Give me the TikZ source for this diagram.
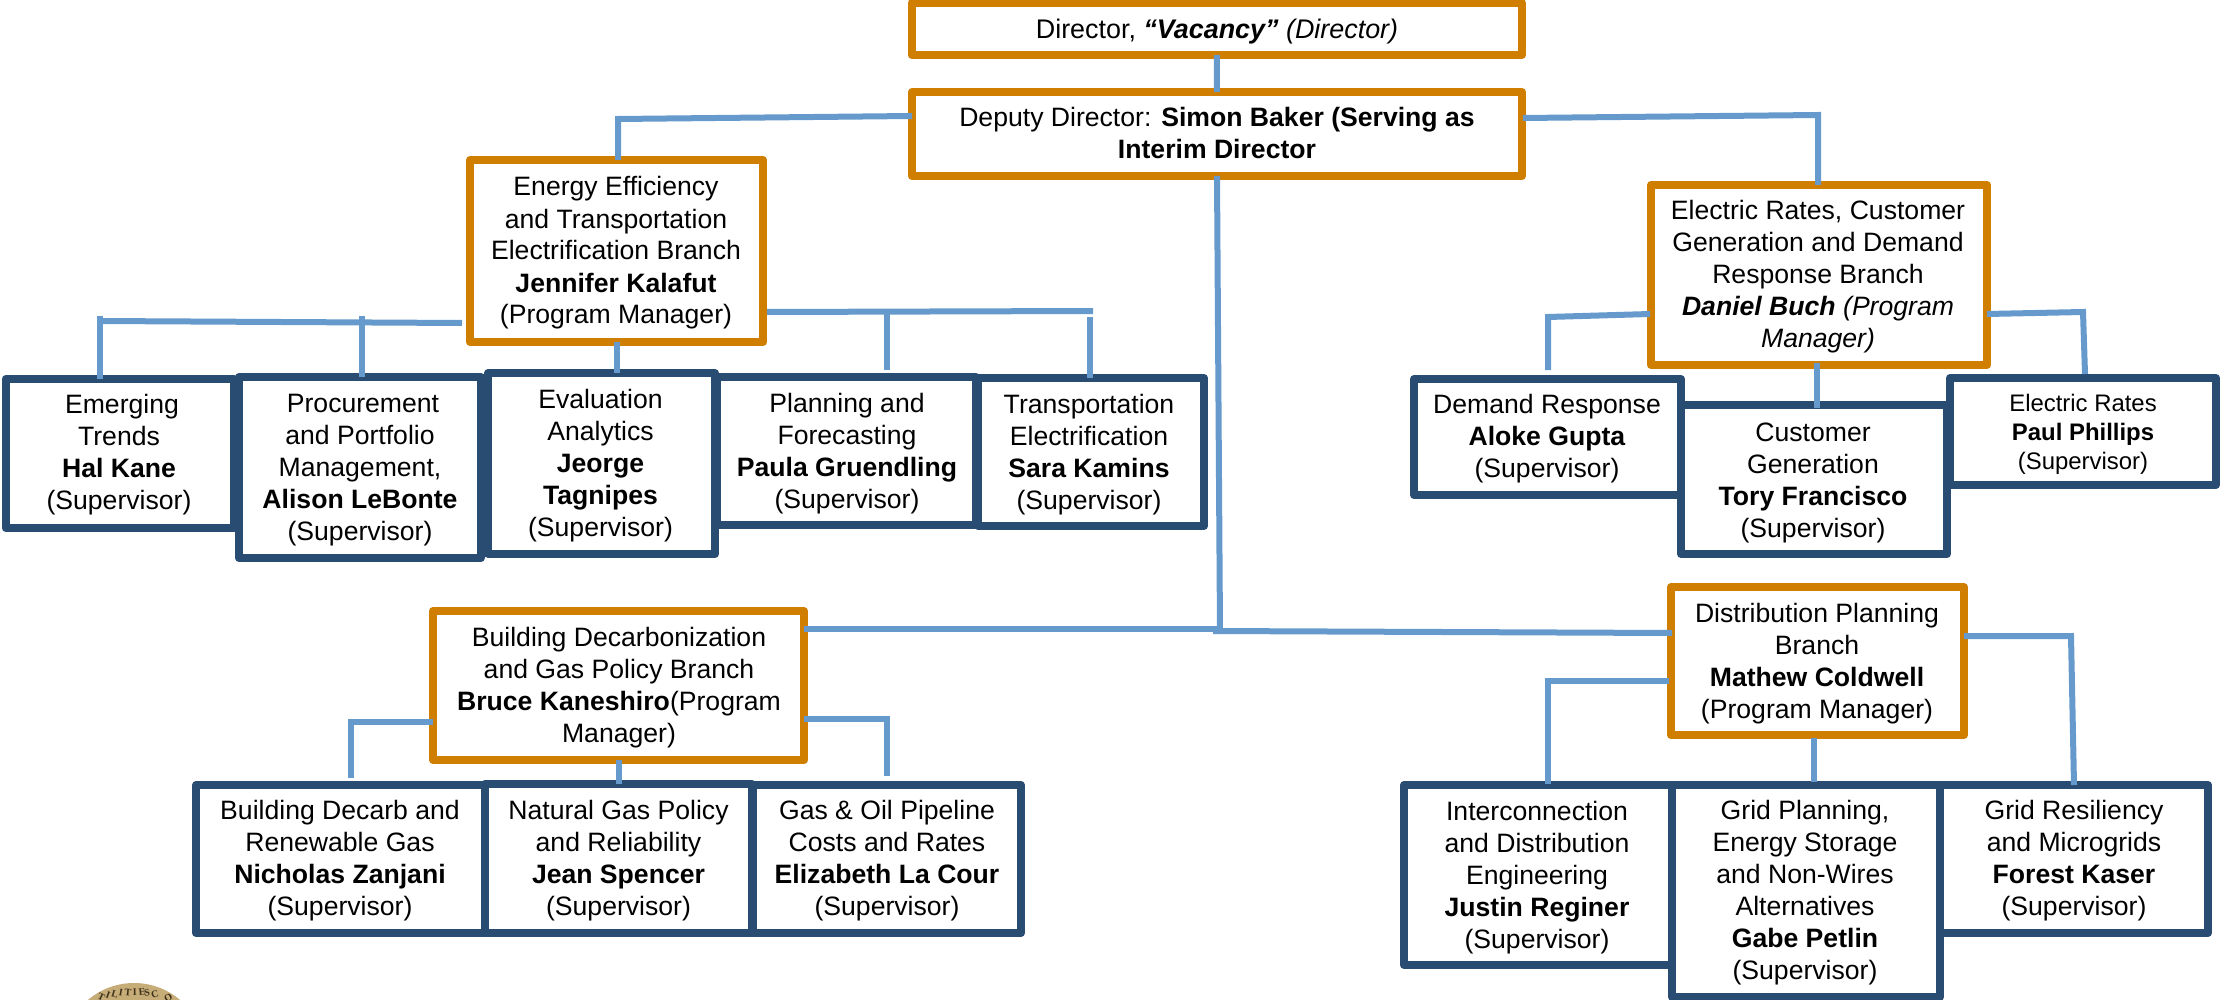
\documentclass[tikz,border=0pt]{standalone}
\usepackage{fontspec}
\setmainfont{Liberation Sans}
\newfontfamily\sealfont{Liberation Serif}
\usetikzlibrary{calc}
\definecolor{orgorange}{RGB}{208,126,0}
\definecolor{orgnavy}{RGB}{41,76,114}
\definecolor{orglink}{RGB}{102,153,204}
\definecolor{sealgold}{RGB}{198,172,118}
\definecolor{sealink}{RGB}{60,48,28}
\newcommand{\tstrut}{\vrule width 0pt height 20pt depth 6pt\relax}
\tikzset{
  boxbase/.style={rectangle,fill=white,inner sep=0pt,outer sep=0pt,line width=8pt,line join=round},
  branch/.style={boxbase,draw=orgorange},
  team/.style={boxbase,draw=orgnavy},
  lbl/.style={anchor=north,inner sep=0pt,outer sep=0pt,align=center,text=black,font=\fontsize{26.6}{32}\selectfont},
  lblwide/.style={lbl,font=\fontsize{26.9}{32}\selectfont},
  lblsmall/.style={lbl,font=\fontsize{23.9}{29}\selectfont},
  link/.style={draw=orglink,line width=6pt,line cap=butt,line join=miter},
}
\newcommand{\orgbox}[6]{%
  \node[#2,minimum width={(#5-#3)*1pt},minimum height={(#6-#4)*1pt}] (#1) at ({(#3+#5)/2},{(#4+#6)/2}) {};%
}
\newcommand{\orgtext}[5]{%
  \node[#2] (#1) at (#3,{#4-20}) {\tstrut #5};%
}
\begin{document}
\begin{tikzpicture}[x=1pt,y=-1pt]
\useasboundingbox (0,0) rectangle (2220,1000);
% seal
\begin{scope}
  \clip (0,0) rectangle (2220,1000);
  \fill[sealgold] (134,1054) circle (71);
  \foreach \ch/\ang in {T/-19,I/-15,L/-11,I/-7.5,T/-3.5,I/0.5,E/4.6,S/7.5,C/12,O/20}{
    \node[text=sealink,inner sep=0pt,font=\sealfont\bfseries\fontsize{10}{10}\selectfont,rotate=1.4*\ang] (seal\ch\ang) at ({134+100*sin(\ang)},{1092-100*cos(\ang)}) {\ch};
  }
\end{scope}
% boxes
\orgbox{dir}{branch}{911.5}{3}{1522}{55}
\orgbox{dep}{branch}{912}{92}{1522}{176}
\orgbox{en}{branch}{470}{160}{763}{342}
\orgbox{el}{branch}{1651}{185}{1987}{365}
\orgbox{bd}{branch}{433}{611}{804}{760}
\orgbox{di}{branch}{1671}{587}{1964}{735}
\orgbox{hal}{team}{5.5}{379}{234}{528}
\orgbox{pla}{team}{717}{377}{976}{525}
\orgbox{pro}{team}{239}{377}{481}{558}
\orgbox{eva}{team}{488}{373}{715}{554}
\orgbox{tra}{team}{978}{378}{1204}{526}
\orgbox{cus}{team}{1681}{405}{1947}{554}
\orgbox{dem}{team}{1414}{379}{1681}{495}
\orgbox{erp}{team}{1950}{378}{2216}{485}
\orgbox{bz}{team}{196}{785}{485}{933}
\orgbox{ng}{team}{485}{784}{752}{933}
\orgbox{gas}{team}{753}{785}{1021}{933}
\orgbox{ic}{team}{1404}{785}{1672}{965}
\orgbox{gr}{team}{1940}{785}{2208}{933}
\orgbox{gp}{team}{1672}{785}{1940}{997}
% bends and free ends
\coordinate (a1) at (618,119);
\coordinate (a2) at (1818,115);
\coordinate (a3) at (100,321);
\coordinate (a3t) at (100,316);
\coordinate (a4) at (362,316);
\coordinate (a5) at (1093,311);
\coordinate (a6) at (887,312);
\coordinate (a7) at (1090,317);
\coordinate (a8) at (1548,317);
\coordinate (a9) at (2083,312);
\coordinate (mj) at (1220,632);
\coordinate (mj2) at (1213,631);
\coordinate (mj3) at (1218,629);
\coordinate (a11) at (351,722);
\coordinate (a12) at (887,719);
\coordinate (a13) at (1548,681);
\coordinate (a14) at (2071,636);
% connectors
\draw[link] (dir.south) -- (dep.north);
\draw[link] (dep.south) -- (mj);
\draw[link] ($(dep.west)+(0,-18)$) -- (a1) -- (a1 |- en.north);
\draw[link] ($(dep.east)+(1,-16)$) -- (a2) -- (a2 |- el.north);
\draw[link] (en.south) -- (en.south |- eva.north);
\draw[link] ($(en.west)+(-8,72)$) -- (a3);
\draw[link] (a3t) -- (a3t |- hal.north);
\draw[link] (a4) -- (a4 |- pro.north);
\draw[link] ($(en.east)+(4,61)$) -- (a5);
\draw[link] (a6) -- ($(a6 |- pla.north)+(0,-7)$);
\draw[link] (a7) -- (a7 |- tra.north);
\draw[link] ($(el.west)+(-1,39)$) -- (a8) -- ($(a8 |- dem.north)+(0,-9)$);
\draw[link] ($(el.south)+(-2,-2)$) -- ($(el.south |- cus.north)+(-2,3)$);
\draw[link] ($(el.east)+(0,39)$) -- (a9) -- ($(erp.north)+(2,-4)$);
\draw[link] (mj2) -- ($(di.west)+(1,-28)$);
\draw[link] ($(bd.east)+(0,-56.5)$) -- (mj3);
\draw[link] ($(bd.west)+(0,36.5)$) -- (a11) -- ($(a11 |- bz.north)+(0,-7)$);
\draw[link] (bd.south) -- (bd.south |- ng.north);
\draw[link] ($(bd.east)+(0,33.5)$) -- (a12) -- ($(a12 |- gas.north)+(0,-9)$);
\draw[link] ($(di.west)+(-2,20)$) -- (a13) -- ($(a13 |- ic.north)+(0,-1)$);
\draw[link] ($(di.south)+(-3.5,3)$) -- ($(di.south |- gp.north)+(-3.5,-3)$);
\draw[link] ($(di.east)+(0,-25)$) -- (a14) -- (gr.north);
% labels
\orgtext{dirt}{lblwide}{1217}{38.5}{Director, \textbf{\textit{“Vacancy”}} \textit{(Director)}}
\orgtext{dept}{lbl}{1217}{126.5}{Deputy Director: \textbf{Simon Baker (Serving as}\\\textbf{Interim Director}}
\orgtext{ent}{lbl}{616}{196}{Energy Efficiency\\and Transportation\\Electrification Branch\\\textbf{Jennifer Kalafut}\\(Program Manager)}
\orgtext{elt}{lbl}{1818}{219.5}{Electric Rates, Customer\\Generation and Demand\\Response Branch\\\textbf{\textit{Daniel Buch}} \textit{(Program}\\\textit{Manager)}}
\orgtext{halt}{lbl}{119}{413}{\hspace*{6pt}Emerging\\Trends\\\textbf{Hal Kane}\\(Supervisor)}
\orgtext{prot}{lbl}{360}{412}{\hspace*{6pt}Procurement\\and Portfolio\\Management,\\\textbf{Alison LeBonte}\\(Supervisor)}
\orgtext{evat}{lbl}{600.5}{408.5}{Evaluation\\Analytics\\\textbf{Jeorge}\\\textbf{Tagnipes}\\(Supervisor)}
\orgtext{plat}{lbl}{847}{412}{Planning and\\Forecasting\\\textbf{Paula Gruendling}\\(Supervisor)}
\orgtext{trat}{lbl}{1089}{413}{Transportation\\Electrification\\\textbf{Sara Kamins}\\(Supervisor)}
\orgtext{demt}{lbl}{1547}{413.5}{Demand Response\\\textbf{Aloke Gupta}\\(Supervisor)}
\orgtext{cust}{lbl}{1813}{441}{Customer\\Generation\\\textbf{Tory Francisco}\\(Supervisor)}
\orgtext{erpt}{lblsmall}{2083}{411}{Electric Rates\\\textbf{Paul Phillips}\\(Supervisor)}
\orgtext{bdt}{lbl}{619}{646}{Building Decarbonization\\and Gas Policy Branch\\\textbf{Bruce Kaneshiro}(Program\\Manager)}
\orgtext{dit}{lbl}{1817}{622}{Distribution Planning\\Branch\\\textbf{Mathew Coldwell}\\(Program Manager)}
\orgtext{bzt}{lbl}{340}{819}{Building Decarb and\\Renewable Gas\\\textbf{Nicholas Zanjani}\\(Supervisor)}
\orgtext{ngt}{lbl}{618.5}{819}{Natural Gas Policy\\and Reliability\\\textbf{Jean Spencer}\\(Supervisor)}
\orgtext{gast}{lbl}{887}{819}{Gas \& Oil Pipeline\\Costs and Rates\\\textbf{Elizabeth La Cour}\\(Supervisor)}
\orgtext{ict}{lbl}{1537}{820}{Interconnection\\and Distribution\\Engineering\\\textbf{Justin Reginer}\\(Supervisor)}
\orgtext{gpt}{lbl}{1805}{819}{Grid Planning,\\Energy Storage\\and Non-Wires\\Alternatives\\\textbf{Gabe Petlin}\\(Supervisor)}
\orgtext{grt}{lbl}{2074}{819}{Grid Resiliency\\and Microgrids\\\textbf{Forest Kaser}\\(Supervisor)}
\end{tikzpicture}
\end{document}
